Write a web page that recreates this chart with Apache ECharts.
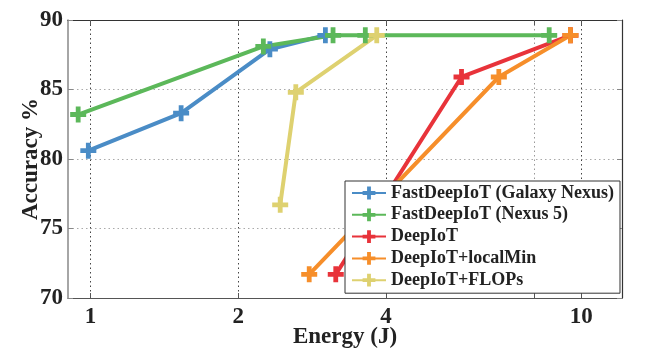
<!DOCTYPE html>
<html>
<head>
<meta charset="utf-8">
<script src="https://cdn.jsdelivr.net/npm/echarts@6/dist/echarts.min.js"></script>
<style>
  html, body { margin: 0; padding: 0; background: #fff; }
  #chart { width: 656px; height: 358px; }
</style>
</head>
<body>
<div id="chart"></div>
<script>
// energy (J) / accuracy (%)
const galaxyEnergy = [0.99, 1.53, 2.32, 3.01]
const galaxyAcc = [80.6, 83.3, 87.9, 88.9]
const nexusEnergy = [0.944, 2.25, 3.12, 3.63, 8.6]
const nexusAcc = [83.2, 88.1, 88.9, 88.9, 88.9]
const deepEnergy = [3.16, 5.7, 9.5]
const deepAcc = [71.7, 85.9, 88.9]
const localEnergy = [2.79, 6.79, 9.5]
const localAcc = [71.7, 85.9, 88.9]
const flopsEnergy = [2.435, 2.62, 3.83]
const flopsAcc = [76.7, 84.8, 88.9]

const xLabels = [1, 2, 4, 10]
const xGrid = [1, 2, 4, 8, 10]

const names = [
  'FastDeepIoT (Galaxy Nexus)',
  'FastDeepIoT (Nexus 5)',
  'DeepIoT',
  'DeepIoT+localMin',
  'DeepIoT+FLOPs'
]
const colors = ['#4A8CC6', '#5CB85A', '#E8333A', '#F68E2A', '#DED170']

const plus = 'path://M3.5,0H6.5V3.5H10V6.5H6.5V10H3.5V6.5H0V3.5H3.5Z'
const font = 'Liberation Serif'

function pairs(xs, ys) {
  return xs.map((x, i) => [x, ys[i]])
}

const sets = [
  pairs(galaxyEnergy, galaxyAcc),
  pairs(nexusEnergy, nexusAcc),
  pairs(deepEnergy, deepAcc),
  pairs(localEnergy, localAcc),
  pairs(flopsEnergy, flopsAcc)
]

const chart = echarts.init(document.getElementById('chart'), null, { renderer: 'canvas' })

const series = sets.map((d, i) => ({
  name: names[i],
  type: 'line',
  data: d,
  symbol: plus,
  symbolSize: 16,
  showAllSymbol: true,
  lineStyle: { width: 4, color: colors[i] },
  itemStyle: { color: colors[i] },
  animation: false
}))

const option = {
  animation: false,
  grid: { left: 68, top: 20, right: 34, bottom: 60, containLabel: false, outerBoundsMode: 'none' },
  legend: {
    orient: 'vertical',
    left: 345,
    top: 181,
    width: 272,
    padding: [3, 6, 4, 6],
    itemGap: 3.8,
    itemWidth: 34,
    itemHeight: 16,
    borderColor: '#333',
    borderWidth: 1,
    backgroundColor: '#fff',
    textStyle: { fontFamily: font, fontWeight: 'bold', fontSize: 18, color: '#222' },
    data: names
  },
  xAxis: [
    {
      type: 'log',
      logBase: 2,
      min: 0.9,
      max: 12.1,
      name: 'Energy (J)',
      nameLocation: 'middle',
      nameGap: 28,
      nameMoveOverlap: false,
      nameTextStyle: { fontFamily: font, fontWeight: 'bold', fontSize: 23, color: '#222' },
      axisLine: { lineStyle: { color: '#555', width: 1.2 } },
      axisTick: { inside: true, length: 5, customValues: xGrid, lineStyle: { color: '#555' } },
      axisLabel: {
        customValues: xLabels,
        fontFamily: font,
        fontWeight: 'bold',
        fontSize: 23,
        color: '#222',
        margin: 8
      },
      splitLine: {
        show: true,
        lineStyle: { type: [1.5, 3], color: ['#444', '#444', '#444', '#999', '#444'] }
      }
    },
    {
      type: 'log',
      logBase: 2,
      min: 0.9,
      max: 12.1,
      position: 'top',
      axisLine: { show: true, onZero: false, lineStyle: { color: '#333', width: 1.2 } },
      axisTick: { inside: true, length: 5, customValues: xGrid, lineStyle: { color: '#555' } },
      axisLabel: { show: false },
      splitLine: { show: false }
    }
  ],
  yAxis: [
    {
      type: 'value',
      min: 70,
      max: 90,
      interval: 5,
      name: 'Accuracy %',
      nameLocation: 'middle',
      nameGap: 25,
      nameMoveOverlap: false,
      nameTextStyle: { fontFamily: font, fontWeight: 'bold', fontSize: 23, color: '#222' },
      axisLine: { show: true, lineStyle: { color: '#888', width: 1.5 } },
      axisTick: { show: true, inside: true, length: 5, lineStyle: { color: '#888' } },
      axisLabel: { fontFamily: font, fontWeight: 'bold', fontSize: 23, color: '#222', margin: 5 },
      splitLine: { show: true, lineStyle: { type: [1.5, 3], color: '#aaa' } }
    },
    {
      type: 'value',
      min: 70,
      max: 90,
      interval: 5,
      position: 'right',
      axisLine: { show: true, onZero: false, lineStyle: { color: '#333', width: 1.2 } },
      axisTick: { show: true, inside: true, length: 5, lineStyle: { color: '#888' } },
      axisLabel: { show: false },
      splitLine: { show: false }
    }
  ],
  series: series
}

chart.setOption(option)
</script>
</body>
</html>
